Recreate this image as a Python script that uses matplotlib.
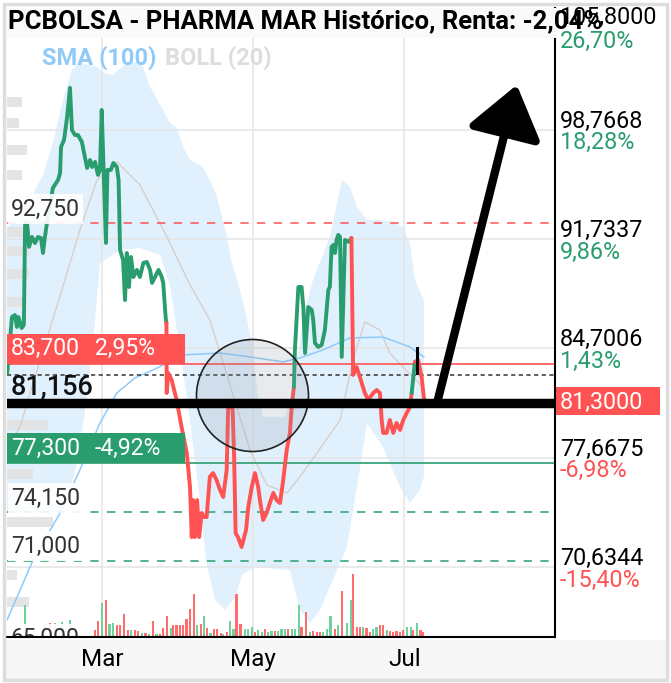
import matplotlib
matplotlib.use('Agg')
import matplotlib.pyplot as plt
import matplotlib.dates as mdates
import matplotlib.transforms as mtrans
from matplotlib.patches import Rectangle, FancyArrowPatch, ArrowStyle
import numpy as np

plt.rcParams['font.family'] = ['Roboto', 'DejaVu Sans']
plt.rcParams['lines.scale_dashes'] = False

# ---------------- data ----------------
base_date = '2021-03-01'          # day offsets below are relative to this date
title = 'PCBOLSA - PHARMA MAR Histórico, Renta: -2,04%'

price_day = [-38.2, -36.3, -35.1, -34.3, -33.7, -32.4, -31.5, -31.0, -30.2, -29.4,
             -28.2, -27.0, -25.8, -24.6, -23.8, -23.0, -22.2, -21.0, -19.8, -17.7,
             -16.9, -16.5, -15.3, -14.1, -12.9, -12.1, -10.9, -9.7, -8.1, -6.9,
             -6.0, -4.8, -4.0, -2.8, -1.6, -0.8, -0.1, 1.6, 2.2, 3.6,
             4.6, 6.0, 6.7, 7.3, 8.5, 9.3, 10.0, 10.9, 11.7, 12.7,
             14.1, 15.3, 16.7, 18.1, 19.4, 20.2, 21.4, 22.8, 24.1, 24.7,
             25.7, 26.0, 26.1, 26.7, 28.1, 30.1, 32.1, 34.2, 35.5, 36.2,
             36.8, 37.5, 38.4, 39.2, 40.2, 41.1, 42.2, 43.5, 44.8, 46.2,
             47.6, 48.9, 50.3, 50.9, 51.6, 52.7, 53.3, 53.9, 55.0, 56.3,
             58.1, 59.0, 60.4, 61.7, 63.0, 63.7, 65.0, 66.4, 67.7, 69.1,
             70.4, 71.8, 73.1, 74.5, 75.8, 76.5, 77.4, 77.8, 79.2, 80.5,
             81.2, 81.9, 83.2, 84.6, 85.2, 85.9, 87.2, 88.6, 89.9, 91.3,
             91.9, 92.6, 93.3, 94.0, 94.6, 95.3, 96.0, 96.7, 98.0, 99.6,
             100.6, 101.3, 102.7, 104.0, 106.0, 107.4, 109.4, 110.8, 112.1, 112.8,
             113.4, 114.8, 116.1, 117.5, 118.8, 120.2, 121.5, 122.9, 124.2, 124.9,
             126.2, 127.5, 128.9, 129.6, 130.0]
price = [83.12, 86.72, 86.85, 86.08, 86.72, 86.01, 86.21, 92.77, 92.77, 91.23,
         91.87, 91.48, 91.87, 91.80, 90.84, 91.87, 92.77, 93.93, 95.02, 95.54,
         95.99, 97.66, 98.11, 99.53, 101.46, 98.75, 98.43, 98.43, 97.98, 97.02,
         96.31, 96.82, 96.37, 96.70, 95.86, 96.18, 100.04, 91.48, 96.18, 96.18,
         96.63, 96.37, 95.54, 91.03, 90.39, 87.81, 90.84, 88.65, 90.58, 89.29,
         89.75, 89.29, 90.20, 90.26, 89.75, 88.91, 89.29, 89.75, 89.29, 88.91,
         86.66, 86.33, 81.83, 83.12, 82.67, 81.38, 79.64, 77.97, 75.78, 72.56,
         74.94, 72.56, 74.94, 72.56, 74.11, 73.85, 73.85, 76.43, 76.68, 76.23,
         75.59, 75.14, 76.88, 80.93, 81.19, 80.74, 77.71, 72.82, 72.50, 71.92,
         73.01, 74.49, 75.78, 76.68, 75.78, 74.94, 73.66, 74.11, 74.75, 75.40,
         74.94, 74.75, 76.23, 78.16, 79.26, 80.93, 82.22, 84.60, 88.65, 88.65,
         87.36, 84.40, 87.36, 87.17, 86.53, 85.05, 84.79, 84.92, 85.88, 88.46,
         88.65, 91.23, 91.35, 90.84, 91.68, 92.00, 91.87, 84.15, 91.68, 91.55,
         91.80, 82.99, 83.50, 82.86, 81.83, 81.38, 81.83, 82.02, 81.83, 80.09,
         79.26, 79.26, 80.09, 79.26, 79.90, 79.45, 80.09, 80.54, 80.93, 81.83,
         83.83, 83.95, 82.86, 81.83, 81.30]
# days where the line colour flips (starts green/up)
trend_switch_day = [26.0, 77.4, 100.6, 124.9, 126.2]
last_bar_day = 126.9
last_bar_high = 84.73
last_bar_low = 83.12

boll_up_day = [-38.3, -33.1, -29.0, -23.8, -19.8, -15.7, -12.1, -8.9, -2.0, 0.4,
               4.4, 10.1, 14.1, 16.5, 19.4, 24.6, 27.4, 30.2, 32.7, 35.5,
               40.7, 43.5, 46.4, 48.4, 50.4, 52.4, 55.6, 57.7, 60.5, 62.9,
               64.9, 73.8, 76.6, 78.6, 81.9, 85.1, 87.9, 91.9, 94.0, 96.8,
               100.0, 102.8, 106.9, 110.9, 117.3, 121.4, 124.2, 126.2, 129.8]
boll_up = [92.45, 93.28, 94.25, 95.86, 97.92, 100.69, 102.62, 103.07, 102.81, 102.42,
           102.29, 103.07, 103.13, 102.81, 101.52, 100.04, 99.20, 98.88, 97.66, 96.82,
           96.37, 95.54, 94.44, 93.16, 91.87, 90.20, 88.46, 87.17, 84.92, 81.70,
           80.29, 80.29, 81.70, 83.95, 87.17, 89.10, 90.26, 91.87, 93.48, 95.54,
           95.09, 93.80, 92.96, 92.96, 92.83, 92.51, 91.48, 89.10, 87.81]
boll_low_day = [-38.3, -16.9, -12.9, -10.1, -6.0, -2.8, -0.8, 7.3, 15.3, 23.4, 27.4,
                31.5, 35.5, 39.5, 41.9, 45.6, 49.6, 53.6, 56.5, 61.7, 75.8,
                79.8, 83.9, 87.9, 93.1, 98.8, 102.8, 106.9, 113.3, 120.2, 124.2,
                128.2, 129.8]
boll_low = [74.11, 74.11, 75.59, 77.33, 81.57, 86.53, 90.20, 91.03, 91.16, 90.71, 88.78,
            84.60, 80.09, 74.94, 71.08, 68.51, 67.87, 68.64, 70.12, 70.63, 70.44,
            67.87, 67.03, 67.87, 69.80, 71.92, 75.78, 79.90, 78.36, 75.78, 74.75,
            75.59, 76.43]
boll_mid_day = [-38.3, -33.1, -23.8, -16.9, -8.9, -2.0, 6.0, 15.3, 26.2, 35.5,
                43.5, 51.6, 59.7, 66.5, 74.6, 79.8, 86.7, 96.0, 101.2, 106.0,
                112.1, 116.1, 121.4, 125.4, 129.4]
boll_mid = [78.16, 79.64, 84.53, 88.07, 92.32, 95.54, 96.70, 95.22, 91.87, 88.78,
            86.53, 82.35, 78.16, 75.91, 75.40, 76.43, 77.97, 80.09, 83.95, 86.40,
            85.88, 84.40, 83.50, 82.86, 82.22]
sma_day = [-38.3, -27.8, -16.9, -8.9, -0.8, 6.0, 13.3, 20.6, 32.7, 47.6,
           59.7, 73.0, 79.8, 89.1, 100.0, 113.3, 124.2, 129.8]
sma = [67.22, 71.08, 74.11, 76.88, 79.90, 81.83, 82.80, 83.31, 84.28, 84.40,
       84.15, 83.83, 84.08, 84.60, 85.37, 85.43, 84.79, 84.15]

vol_day = [-31.0, -23.0, -21.0, -19.0, -16.1, -12.9,
           -2.8, -1.5, -0.1, 1.6, 3.0, 4.6, 6.2, 7.3, 8.9, 10.6,
           11.7, 13.3, 14.6, 16.0, 17.6, 19.0, 20.7, 22.0, 23.4, 24.7,
           26.1, 27.7, 28.8, 30.1, 31.4, 32.8, 34.1, 35.5, 37.1, 38.2,
           39.8, 41.3, 42.5, 43.8, 45.2, 46.5, 47.9, 48.9, 50.3, 51.6,
           53.0, 54.3, 55.9, 57.7, 59.0, 60.6, 61.7, 63.0, 64.4, 65.7,
           67.1, 68.4, 69.8, 71.1, 72.4, 73.8, 75.1, 76.5, 77.8, 79.6,
           80.5, 82.3, 83.9, 85.2, 86.6, 87.9, 89.2, 90.6, 92.2, 94.0,
           95.3, 96.9, 98.7, 100.3, 101.3, 102.7, 104.0, 105.4, 106.7, 108.1,
           109.4, 110.7, 112.1, 113.4, 114.8, 116.1, 117.5, 118.8, 120.2, 121.5,
           122.9, 124.5, 125.5, 126.9, 128.5, 129.6]
volume_k = [128, 52, 56, 56, 60, 68,
            27, 63, 137, 147, 53, 57, 47, 47, 93, 27,
            27, 27, 23, 17, 17, 13, 63, 13, 13, 36,
            83, 36, 47, 49, 47, 47, 73, 111, 172, 47,
            53, 84, 36, 17, 31, 31, 17, 13, 20, 63,
            33, 173, 53, 33, 31, 40, 20, 27, 20, 33,
            20, 23, 23, 23, 33, 33, 33, 33, 33, 129,
            40, 100, 20, 23, 20, 20, 20, 33, 84, 33,
            47, 183, 57, 147, 252, 40, 40, 40, 36, 20,
            31, 40, 47, 49, 27, 23, 20, 23, 20, 27,
            40, 40, 27, 57, 27, 20]
vol_dir = list("grrggg" + "rrgrggrrrr" + "grrgrgrgrr" + "rgrrrrrrrg" + "rgrgrrrgrg"
               + "grrgggrggr" + "ggrgggrggg" + "rrgrrrgggr" + "grggrrrgrr"
               + "ggrrgrrrrr" + "ggrgrr")

profile_price = [100.56, 99.20, 97.47, 95.86, 92.19, 90.97, 89.49, 87.69,
                 79.77, 76.62, 73.53, 70.12, 68.38]
profile_vol = [15, 12, 20, 15, 22, 22, 22, 17, 41, 26, 46, 10, 22]

right_ticks = [105.8, 98.7668, 91.7337, 84.7006, 77.6675, 70.6344]
right_tick_labels = ['105,8000', '98,7668', '91,7337', '84,7006', '77,6675', '70,6344']
right_pct_labels = ['26,70%', '18,28%', '9,86%', '1,43%', '-6,98%', '-15,40%']
month_ticks = ['2021-03-01', '2021-05-01', '2021-07-01']
month_labels = ['Mar', 'May', 'Jul']

resistance = 92.75
supports = [74.15, 71.0]
hidden_level = 65.0
alert_high, alert_high_pct = 83.7, '2,95%'
alert_low, alert_low_pct = 77.3, '-4,92%'
prev_close = 82.99
last_price = 81.30
user_line = 81.156
arrow_from = (135.1, 81.156)
arrow_to = (167.3, 101.65)
circle_at = (60.7, 81.70)

# ---------------- style ----------------
GREEN = '#2a9d6f'
RED = '#ff5252'
BAND = '#e0f0fc'
GRID = '#e6e6e6'
FS = 16.8      # right axis labels
FSL = 16.6     # left level labels

W, H = 671, 683
AX_L, AX_R, AX_T, AX_B = 7, 555, 8, 637
Y0, Y1 = 66.13, 106.6
base = mdates.datestr2num(base_date)
X0, X1 = base - 38.3, base + 182.7
ppu = (AX_B - AX_T) / (Y1 - Y0)

fig = plt.figure(figsize=(W / 100, H / 100), dpi=100)
fig.patch.set_facecolor('white')
ax = fig.add_axes([AX_L / W, 1 - AX_B / H, (AX_R - AX_L) / W, (AX_B - AX_T) / H])
ax.set_xlim(X0, X1)
ax.set_ylim(Y0, Y1)
ax.set_facecolor('white')
for s in ['left', 'top']:
    ax.spines[s].set_visible(False)
for s in ['right', 'bottom']:
    ax.spines[s].set_color('black')
    ax.spines[s].set_linewidth(1.5)
    ax.spines[s].set_zorder(12)
ax.set_yticks([])
ax.set_xticks([mdates.datestr2num(d) for d in month_ticks])
ax.set_xticklabels(month_labels)
ax.tick_params(axis='x', length=0, pad=8, labelsize=17.5)

def X(days):
    return base + np.asarray(days, dtype=float)

# grid
for v in right_ticks:
    ax.axhline(v, color=GRID, lw=1.2, zorder=0.5)
for d in month_ticks:
    ax.axvline(mdates.datestr2num(d), color=GRID, lw=1.2, zorder=0.5)

# bollinger band
bx = np.r_[X(boll_up_day), X(boll_low_day)[::-1]]
by = np.r_[boll_up, boll_low[::-1]]
ax.fill(bx, by, color=BAND, lw=0, zorder=0.3)
ax.plot(X(boll_mid_day), boll_mid, color='#d8ccc6', lw=0.9, zorder=2)
ax.plot(X(sma_day), sma, color='#90caf9', lw=1.1, zorder=2)

# volume profile (left)
ptrans = mtrans.blended_transform_factory(ax.transAxes, ax.transData)
pscale = 46 / (AX_R - AX_L) / max(profile_vol)
ax.barh(profile_price, [p * pscale for p in profile_vol], height=0.65, left=0,
        color='#e2e2e2', alpha=0.9, transform=ptrans, zorder=1)

# volume bars
vtrans = mtrans.blended_transform_factory(ax.transData, ax.transAxes)
vscale = 1.0 / (4 * (AX_B - AX_T))
ax.bar(X(vol_day), [v * vscale for v in volume_k], width=0.9, bottom=0,
       color=[('#6fd19c' if d == 'g' else '#ff6e6e') for d in vol_dir],
       transform=vtrans, zorder=1.5)

# level lines
ax.axhline(resistance, color=RED, lw=1.1, ls=(0, (6, 6)), zorder=3)
for s in supports:
    ax.axhline(s, color=GREEN, lw=1.1, ls=(0, (6, 6)), zorder=3)
ax.axhline(alert_high, color=RED, lw=1.2, zorder=3)
ax.axhline(alert_low, color=GREEN, lw=1.2, zorder=3)
ax.axhline(prev_close, color='#333333', lw=1.1, ls=(0, (3, 2.5)), zorder=3)

# price line, coloured by trend
xs = X(price_day)
seg_col = []
for i in range(len(xs) - 1):
    k = sum(1 for s in trend_switch_day if s <= price_day[i])
    seg_col.append(GREEN if k % 2 == 0 else RED)
start = 0
for i in range(1, len(seg_col) + 1):
    if i == len(seg_col) or seg_col[i] != seg_col[start]:
        ax.plot(xs[start:i + 1], price[start:i + 1], color=seg_col[start], lw=2.8,
                solid_joinstyle='round', solid_capstyle='round', zorder=6)
        start = i
ax.plot([base + last_bar_day] * 2, [last_bar_low, last_bar_high], color='black',
        lw=2.2, zorder=6.5)

# circle highlight
ax.scatter([base + circle_at[0]], [circle_at[1]], s=(112 * 0.72) ** 2,
           facecolors=[(0.55, 0.6, 0.65, 0.2)], edgecolors='#222222',
           linewidths=1.2, zorder=8)

# thick user line
ax.axhline(user_line, color='black', lw=6.8, zorder=9)

# arrow
arr = FancyArrowPatch((base + arrow_from[0], arrow_from[1]), (base + arrow_to[0], arrow_to[1]),
                      arrowstyle=ArrowStyle('-|>', head_length=31, head_width=23),
                      mutation_scale=1, lw=6, color='black', shrinkA=0, shrinkB=0,
                      zorder=20, clip_on=False)
ax.add_patch(arr)

# left labels
def ltext(val, s, dy, dx=4, fs=FSL, **kw):
    tr = mtrans.offset_copy(ptrans, fig=fig, x=dx, y=dy, units='dots')
    return ax.text(0, val, s, transform=tr, va='center', ha='left', fontsize=fs,
                   zorder=11, clip_on=True, **kw)

wbox = dict(boxstyle='square,pad=0.15', fc='white', ec='none', alpha=0.9)
ltext(resistance, '92,750', 14, color='#333333', bbox=wbox)
ltext(supports[0], '74,150', 14, color='#333333', bbox=wbox)
ltext(supports[1], '71,000', 15, color='#333333', bbox=wbox)
ltext(hidden_level, '65,000', 16, color='#333333', bbox=wbox)
ltext(user_line, '81,156', 17, fs=19.5, color='#111111', fontweight='medium')

box_w = 178 / (AX_R - AX_L)
box_h = 30 / ppu
ax.add_patch(Rectangle((0, alert_high), box_w, box_h, transform=ptrans, color=RED,
                       zorder=10, lw=0))
ax.add_patch(Rectangle((0, alert_low), box_w, box_h, transform=ptrans, color=GREEN,
                       zorder=10, lw=0))
ltext(alert_high, '83,700', 15, color='white')
ltext(alert_high, alert_high_pct, 15, dx=88, color='white')
ltext(alert_low, '77,300', 15, color='white')
ltext(alert_low, alert_low_pct, 15, dx=88, color='white')

# last price box on the right
ax.add_patch(Rectangle((1, last_price - 14 / ppu), 105 / (AX_R - AX_L), 28 / ppu,
                       transform=ptrans, color=RED, zorder=10, lw=0, clip_on=False))

# top band (title) and frame
fig.add_artist(Rectangle((7 / W, 1 - 38 / H), (557 - 7) / W, 30 / H, transform=fig.transFigure,
                         facecolor='#fafafa', edgecolor='none', zorder=1))
fig.add_artist(Rectangle((5 / W, 1 - 679 / H), (666 - 5) / W, (679 - 640) / H,
                         transform=fig.transFigure, facecolor='#f7f7f7',
                         edgecolor='none', zorder=-1))
fig.add_artist(Rectangle((4 / W, 1 - 680 / H), (667 - 4) / W, (680 - 4) / H,
                         transform=fig.transFigure, facecolor='none',
                         edgecolor='#dddddd', lw=2.5, zorder=5))
fig.text(8 / W, 1 - 21 / H, title, fontsize=18.5, fontweight='bold', color='black',
         va='center', ha='left', zorder=2)
fig.text(42 / W, 1 - 58 / H, 'SMA (100)', fontsize=17, fontweight='bold',
         color='#90caf9', va='center', ha='left', zorder=2)
fig.text(165 / W, 1 - 58 / H, 'BOLL (20)', fontsize=17, fontweight='bold',
         color='#dddddd', va='center', ha='left', zorder=2)

# right axis labels
for i, (v, lab, pct) in enumerate(zip(right_ticks, right_tick_labels, right_pct_labels)):
    dy1, dy2 = (3, -21) if i == 0 else (8.5, -13)
    tr1 = mtrans.offset_copy(ptrans, fig=fig, x=5, y=dy1, units='dots')
    tr2 = mtrans.offset_copy(ptrans, fig=fig, x=5, y=dy2, units='dots')
    fig.text(1, v, lab, transform=tr1, fontsize=FS, color='black', va='center',
             ha='left', zorder=3)
    fig.text(1, v, pct, transform=tr2, fontsize=FS,
             color=(RED if pct.startswith('-') else GREEN), va='center', ha='left', zorder=3)
trl = mtrans.offset_copy(ptrans, fig=fig, x=5, y=-1, units='dots')
fig.text(1, last_price, '81,3000', transform=trl, fontsize=FS, color='white',
         va='center', ha='left', zorder=3)

fig.savefig('out.png', dpi=100, facecolor='white')
